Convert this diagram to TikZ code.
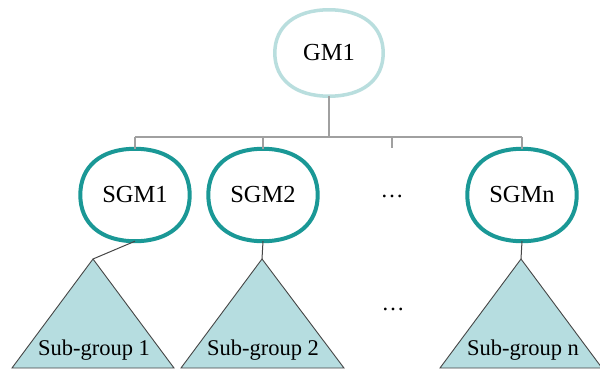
\documentclass[tikz,border=0pt]{standalone}
\usepackage{fontspec}
\usetikzlibrary{calc}
\setmainfont{Liberation Serif}
\newcommand{\blobpath}[1]{%
  (#1.west) .. controls ($(#1.west)!0.62!(#1.north west)$) and ($(#1.north)!0.62!(#1.north west)$) ..
  (#1.north) .. controls ($(#1.north)!0.62!(#1.north east)$) and ($(#1.east)!0.62!(#1.north east)$) ..
  (#1.east) .. controls ($(#1.east)!0.62!(#1.south east)$) and ($(#1.south)!0.62!(#1.south east)$) ..
  (#1.south) .. controls ($(#1.south)!0.62!(#1.south west)$) and ($(#1.west)!0.62!(#1.south west)$) ..
  (#1.west) -- cycle}
\begin{document}
\begin{tikzpicture}[x=1pt,y=-1pt,
  topbox/.style={rectangle, minimum width=108pt, minimum height=86pt, inner sep=0pt,
    font=\fontsize{24.5}{28}\selectfont},
  subbox/.style={rectangle, minimum width=109pt, minimum height=92pt, inner sep=0pt,
    font=\fontsize{24.5}{28}\selectfont},
  topline/.style={draw=toplinec, line width=3.5pt},
  subline/.style={draw=sublinec, line width=4pt},
  tree/.style={draw=treegray, line width=1.3pt},
  link/.style={draw=linkgray, line width=1pt},
  tri/.style={draw=linkgray, line width=0.9pt, fill=trifill, line join=miter},
  grplabel/.style={font=\fontsize{22.5}{26}\selectfont, anchor=base, inner sep=0pt},
  dots/.style={font=\fontsize{23}{27}\selectfont, inner sep=0pt}
]
\definecolor{toplinec}{RGB}{185,222,222}
\definecolor{sublinec}{RGB}{26,152,150}
\definecolor{treegray}{RGB}{160,160,160}
\definecolor{linkgray}{RGB}{70,70,70}
\definecolor{trifill}{RGB}{182,221,224}
\useasboundingbox (0,0) rectangle (600,370);
\fill[white] (0,0) rectangle (600,370);

\coordinate (bar1) at (135,137);
\coordinate (bar2) at (263,137);
\coordinate (bar3) at (392,137);
\coordinate (bar4) at (522,137);
\coordinate (bartop) at (329,137);
\coordinate (tick3) at (392,148);

\node[topbox] (gm) at (329,53) {GM1};
\node[subbox] (s1) at (135,195) {SGM1};
\node[subbox] (s2) at (263,195) {SGM2};
\node[subbox] (sn) at (522,195) {SGMn};
\node[dots] (d1) at (392,196) {\dots};

\draw[topline] \blobpath{gm};
\draw[subline] \blobpath{s1};
\draw[subline] \blobpath{s2};
\draw[subline] \blobpath{sn};

\draw[tree] (gm.south) -- (bartop);
\draw[tree] (bar1) -- (bar4);
\draw[tree] (bar1) -- (s1.north);
\draw[tree] (bar2) -- (s2.north);
\draw[tree] (bar3) -- (tick3);
\draw[tree] (bar4) -- (sn.north);

\coordinate (t1) at (93,259);
\coordinate (t2) at (262,259);
\coordinate (tn) at (521,259);
\draw[tri] (t1) -- (12,368) -- (174,368) -- cycle;
\draw[tri] (t2) -- (181,368) -- (344,368) -- cycle;
\draw[tri] (tn) -- (440,368) -- (602,368) -- cycle;

\draw[link] (s1.south) -- (t1);
\draw[link] (s2.south) -- (t2);
\draw[link] (sn.south) -- (tn);

\node[grplabel] (g1) at (94,355) {Sub-group 1};
\node[grplabel] (g2) at (263,355) {Sub-group 2};
\node[grplabel] (gn) at (523,355) {Sub-group n};
\node[dots] (d2) at (393,309) {\dots};
\end{tikzpicture}
\end{document}
